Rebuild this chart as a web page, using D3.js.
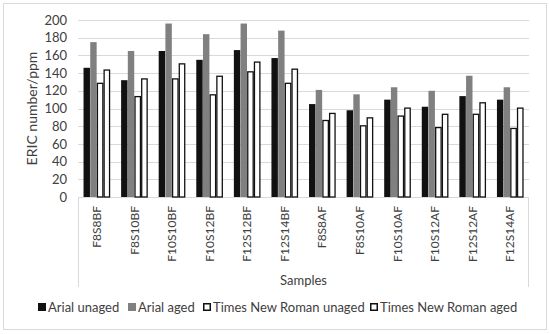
<!DOCTYPE html>
<meta charset="utf-8">
<html>
<head>
<style>
  body { margin: 0; background: #fff; }
  svg { display: block; }
  .lbl { font-family: Lato, "Open Sans", sans-serif; fill: #404040; }
</style>
<script src="https://d3js.org/d3.v7.min.js"></script>
</head>
<body>
<svg width="550" height="334"></svg>
<script>
var samples = ["F8S8BF", "F8S10BF", "F10S10BF", "F10S12BF", "F12S12BF", "F12S14BF",
               "F8S8AF", "F8S10AF", "F10S10AF", "F10S12AF", "F12S12AF", "F12S14AF"];
var seriesNames = ["Arial unaged", "Arial aged", "Times New Roman unaged", "Times New Roman aged"];
var arialUnaged = [146, 132, 165, 155, 166, 157, 105, 98, 110, 102, 114, 110];
var arialAged   = [175, 165, 196, 184, 196, 188, 121, 116, 124, 120, 137, 124];
var tnrUnaged   = [129, 114, 134, 116, 142, 129, 87, 81, 92, 79, 94, 78];
var tnrAged     = [144, 134, 151, 137, 153, 145, 95, 90, 101, 94, 107, 101];
var yTicks = [0, 20, 40, 60, 80, 100, 120, 140, 160, 180, 200];

var series = [arialUnaged, arialAged, tnrUnaged, tnrAged];
var fills = ["#111111", "#808080", "#ffffff", "#ffffff"];
var strokes = ["none", "none", "#111", "#111"];

var svg = d3.select("svg");
var plot = {left: 78, right: 529, top: 20, bottom: 197};

// outer frame
svg.append("rect")
    .attr("x", 3.5).attr("y", 3.5).attr("width", 543).attr("height", 326)
    .attr("fill", "none").attr("stroke", "#d9d9d9");

var x = d3.scaleBand().domain(samples).range([plot.left, plot.right]).paddingInner(0.28).paddingOuter(0.14);
var xs = d3.scaleBand().domain(d3.range(4)).range([0, x.bandwidth()]).padding(0.04);
var y = d3.scaleLinear().domain([0, 200]).range([plot.bottom, plot.top]);

// grid
svg.append("g").selectAll("line").data(yTicks).join("line")
    .attr("x1", plot.left).attr("x2", plot.right)
    .attr("y1", d => Math.round(y(d)) + 0.5).attr("y2", d => Math.round(y(d)) + 0.5)
    .attr("stroke", "#d9d9d9");

// y tick labels
var yAxis = svg.append("g").attr("transform", "translate(" + (plot.left - 5) + ",0)")
    .call(d3.axisLeft(y).tickValues(yTicks).tickSize(0).tickPadding(6));
yAxis.select(".domain").remove();
yAxis.selectAll("text").attr("class", "lbl").style("font-size", "13px")
    .style("font-family", "Lato, sans-serif").attr("fill", "#404040");

// category box
svg.append("path")
    .attr("d", "M" + (plot.left + 0.5) + ",287V" + (plot.bottom + 0.5) + "H" + (plot.right - 0.5) + "V287")
    .attr("fill", "none").attr("stroke", "#d9d9d9");

// bars
series.forEach((vals, s) => {
  svg.append("g").selectAll("rect").data(vals).join("rect")
      .attr("x", (d, i) => x(samples[i]) + xs(s) + (s > 1 ? 0.5 : 0))
      .attr("y", d => y(d) + (s > 1 ? 0.5 : 0))
      .attr("width", xs.bandwidth() - (s > 1 ? 1 : 0))
      .attr("height", d => plot.bottom - y(d) - (s > 1 ? 0.5 : 0))
      .attr("fill", fills[s])
      .attr("stroke", strokes[s])
      .attr("stroke-width", 1.3);
});

// x labels
var xAxis = svg.append("g").attr("transform", "translate(0," + plot.bottom + ")")
    .call(d3.axisBottom(x).tickSize(0).tickPadding(8));
xAxis.select(".domain").remove();
xAxis.selectAll("text").attr("class", "lbl").style("font-size", "12px")
    .style("font-family", "Lato, sans-serif").attr("fill", "#404040")
    .attr("transform", "rotate(-90)").attr("text-anchor", "end")
    .attr("x", -9).attr("y", 0).attr("dy", "0.35em");

// axis titles
svg.append("text").attr("class", "lbl")
    .attr("x", (plot.left + plot.right) / 2).attr("y", 285)
    .attr("text-anchor", "middle").style("font-size", "13px").text("Samples");
svg.append("text").attr("class", "lbl")
    .attr("transform", "translate(37," + (plot.top + plot.bottom) / 2 + ") rotate(-90)")
    .attr("text-anchor", "middle").style("font-size", "14px").text("ERIC number/ppm");

// legend
var legX = [38, 128, 203, 370];
var leg = svg.append("g").selectAll("g").data(seriesNames).join("g")
    .attr("transform", (d, i) => "translate(" + legX[i] + ",303)");
leg.append("rect")
    .attr("x", (d, i) => i > 1 ? 0.75 : 0).attr("y", (d, i) => i > 1 ? 0.75 : 0)
    .attr("width", (d, i) => i > 1 ? 6.5 : 8).attr("height", (d, i) => i > 1 ? 6.5 : 8)
    .attr("fill", (d, i) => fills[i]).attr("stroke", (d, i) => strokes[i]).attr("stroke-width", 1.5);
leg.append("text").attr("class", "lbl")
    .attr("x", 10).attr("y", 4).attr("dy", "0.35em")
    .style("font-size", "13px").text(d => d);
</script>
</body>
</html>
